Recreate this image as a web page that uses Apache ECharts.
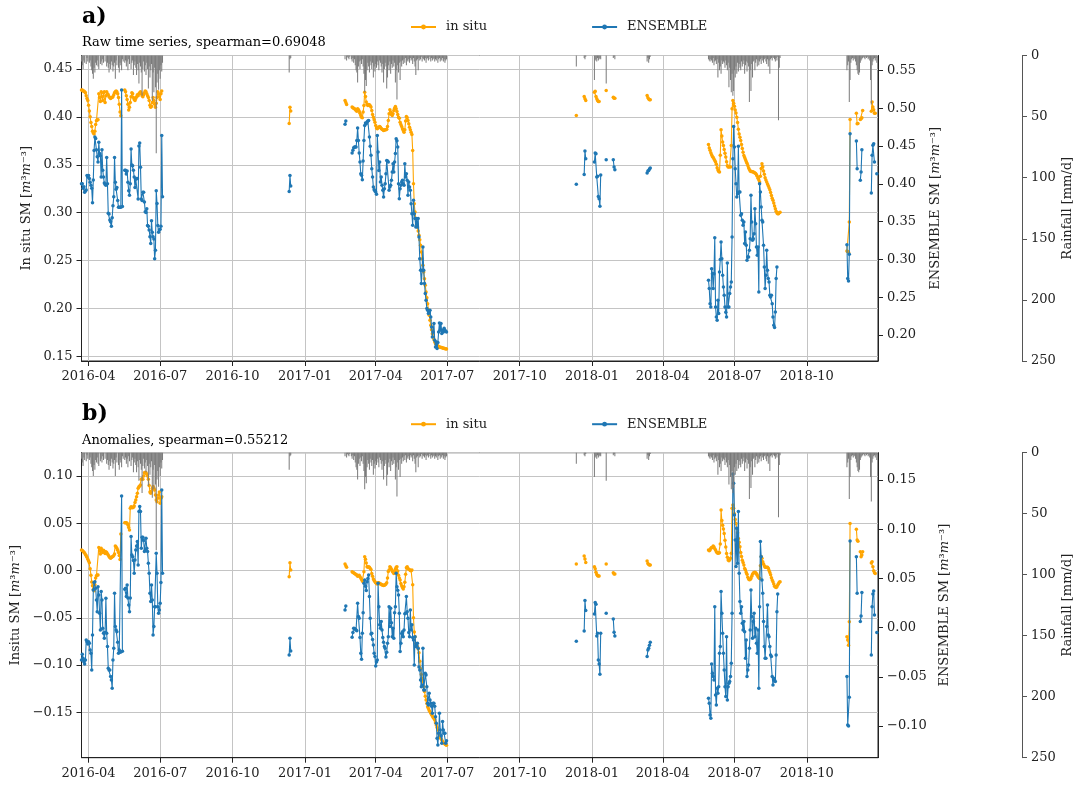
<!DOCTYPE html>
<html><head><meta charset="utf-8">
<script src="https://cdn.jsdelivr.net/npm/echarts@6/dist/echarts.min.js"></script>
<style>html,body{margin:0;padding:0;background:#fff}#c{width:1076px;height:785px}</style>
</head><body><div id="c"></div>
<script>
// Segment start dates (daily values follow each start)
const segStarts = ['2016-03-23','2016-12-12','2017-02-21','2017-12-12','2018-03-12','2018-05-29','2018-11-21'];

const insituRaw = [
 [0.428,0.428,0.427,0.427,0.426,0.425,0.422,0.419,0.417,0.412,
  0.406,0.400,0.394,0.390,0.385,0.383,0.382,0.385,0.392,0.396,
  0.397,0.397,0.424,0.420,0.416,0.426,0.421,0.417,0.425,0.426,
  0.415,0.422,0.426,0.424,0.423,0.421,0.420,0.419,0.420,0.420,
  0.421,0.423,0.425,0.426,0.427,0.426,0.424,0.420,0.413,0.405,
  0.401,null,null,null,null,0.428,0.426,0.422,0.418,0.413,
  0.407,0.410,0.415,0.421,0.425,0.424,0.420,0.418,0.417,0.419,
  0.421,0.423,0.422,0.424,0.425,0.426,0.424,0.422,0.421,0.423,
  0.425,0.427,0.426,0.424,0.422,0.420,0.417,0.412,0.410,0.411,
  0.415,0.420,0.417,0.413,0.410,0.414,0.420,0.426,0.424,0.421,
  0.418,0.424,0.427],
 [0.393,0.410,0.406],
 [0.417,0.4149,0.4128,null,null,null,null,null,null,0.4101,
  0.4094,0.4090,0.4083,0.4076,0.4066,0.4059,0.4083,0.4073,0.4059,0.4038,
  0.4014,0.3996,0.3989,0.4049,0.4118,0.4257,0.4212,0.4153,0.4128,0.4118,
  0.4128,0.4125,0.4114,0.4101,0.4066,0.4024,0.3996,0.3969,0.3944,0.3910,
  0.3882,0.3875,0.3885,0.3892,0.3899,0.3892,0.3878,0.3871,0.3864,0.3857,
  0.3861,0.3864,0.3864,0.3871,0.3899,0.3962,0.4031,0.4073,0.4049,0.4024,
  0.4014,0.4031,0.4066,0.4090,0.4108,0.4083,0.4055,0.4024,0.3996,0.3986,
  0.3944,0.3920,0.3899,0.3875,0.3857,0.3840,0.3864,0.3955,0.4003,0.3989,
  0.3962,0.3927,0.3892,0.3864,0.3840,0.3816,0.3649,0.3302,0.3094,0.3007,
  0.2937,0.2885,0.2851,0.2809,0.2764,0.2719,0.2660,0.2590,0.2521,0.2451,
  0.2382,0.2312,0.2243,0.2174,0.2114,0.2052,0.1989,0.1930,0.1878,0.1826,
  0.1781,0.1739,0.1705,0.1677,0.1653,0.1635,0.1625,0.1618,0.1611,0.1604,
  0.1601,0.1597,0.1594,0.1594,0.1590,0.1587,0.1587,0.1583,0.1583,0.1580],
 [0.4014,null,null,null,null,null,null,null,null,null,
  0.4212,0.4187,0.4170,null,null,null,null,null,null,null,
  null,null,null,0.4257,0.4267,0.4212,0.4187,0.4170,0.4160,0.4160,
  null,null,null,null,null,null,null,null,0.4274,null,
  null,null,null,null,null,null,null,0.4205,0.4194,0.4194],
 [0.4222,0.4198,0.4185,0.4177,0.4177],
 [0.3712,0.3675,0.3650,0.3625,0.3605,0.3587,0.3575,0.3560,0.3545,0.3528,
  0.3505,0.3470,0.3445,0.3430,0.3424,0.3600,0.3864,0.3800,0.3736,0.3700,
  0.3660,0.3620,0.3580,0.3530,0.3490,0.3476,0.3476,0.3483,0.3476,0.3700,
  0.4083,0.4170,0.4140,0.4110,0.4070,0.4040,0.3996,0.3940,0.3870,0.3820,
  0.3788,0.3753,0.3710,0.3670,0.3630,0.3597,0.3575,0.3555,0.3535,0.3515,
  0.3493,0.3470,0.3450,0.3436,0.3430,0.3430,0.3428,0.3425,0.3420,0.3415,
  0.3408,0.3395,0.3380,0.3360,0.3340,0.3320,0.3380,0.3460,0.3510,0.3480,
  0.3435,0.3400,0.3365,0.3340,0.3319,0.3300,0.3280,0.3260,0.3239,0.3210,
  0.3180,0.3150,0.3130,0.3100,0.3070,0.3040,0.3015,0.2996,0.2990,0.2990,
  0.3000,0.3005],
 [0.2601,0.2595,0.2587,0.2903,0.3972,null,null,null,null,null,
  null,null,0.4038,0.3927,0.3930,null,null,0.3972,0.3979,0.3990,
  0.4066,null,null,null,null,null,null,null,null,null,
  null,0.4059,0.4153,0.4101,0.4073,0.4038,0.4038,null,null]
];

const ensembleRaw = [
 [0.400,0.400,0.394,0.396,0.389,0.391,0.392,0.411,0.409,0.411,
  0.407,0.402,0.398,0.394,0.375,0.405,0.444,0.462,0.460,0.445,
  0.436,0.429,0.455,0.440,0.437,0.409,0.445,0.418,0.409,0.401,
  0.399,0.398,0.435,0.400,0.361,0.360,0.352,0.350,0.344,0.355,
  0.371,0.383,0.435,0.402,0.393,0.395,0.378,0.369,0.369,0.369,
  0.369,0.524,0.370,null,null,0.418,0.418,0.413,0.417,0.402,
  0.391,0.385,0.400,0.446,0.425,0.424,0.418,0.409,0.395,0.406,
  0.407,0.407,0.380,0.450,0.454,0.422,0.380,0.378,0.389,0.389,
  0.376,0.363,0.362,0.367,0.345,0.344,0.339,0.330,0.321,0.351,
  0.336,0.330,0.327,0.301,0.312,0.391,0.374,0.345,0.336,0.339,
  0.340,0.344,0.464,0.383],
 [0.390,0.411,0.397],
 [0.479,0.483,null,null,null,null,null,null,null,0.4407,
  0.4443,0.4478,0.4487,0.4487,0.4487,0.4575,0.4738,0.4575,0.4407,0.4288,
  0.4134,0.4112,0.4055,0.4302,0.4575,0.4773,0.4804,0.4795,0.4817,0.4830,
  0.4839,0.4619,0.4496,0.4377,0.4200,0.4090,0.3958,0.3923,0.3905,0.3892,
  0.3861,0.4641,0.4421,0.4178,0.4288,0.4024,0.4090,0.3980,0.3914,0.3826,
  0.3936,0.4002,0.4134,0.4310,0.4302,0.4288,0.3914,0.3958,0.3980,0.4046,
  0.4156,0.4266,0.4156,0.4288,0.4400,0.4597,0.4570,0.4487,0.4002,0.3804,
  0.3936,0.3980,0.4024,0.4046,0.4002,0.3980,0.4266,0.4090,0.4134,0.4046,
  0.3848,0.4024,0.3958,0.3914,0.3738,0.3605,0.3452,0.3782,0.3605,0.3540,
  0.3430,0.3540,0.3430,0.3540,0.3298,0.3010,0.2856,0.2680,0.2856,0.3165,
  0.2856,0.2680,0.2548,0.2460,0.2350,0.2327,0.2283,0.2300,0.2327,0.2239,
  0.2107,0.1975,0.2041,0.2151,0.1930,0.1842,0.1908,0.1820,0.1900,0.2041,
  0.2160,0.2063,0.2151,0.2019,0.2063,0.2041,0.2090,0.2063,0.2050,0.2041],
 [0.3993,null,null,null,null,null,null,null,null,null,
  0.4125,0.4434,0.4332,null,null,null,null,null,null,null,
  null,null,null,0.4288,0.4407,0.4398,0.4090,0.4099,0.3834,0.3804,
  0.3702,0.4117,null,null,null,null,null,null,0.4319,null,
  null,null,null,null,null,null,null,0.4319,0.4222,0.4187],
 [0.4143,0.4170,0.4178,0.4195,0.4209],
 [0.2724,0.2614,0.2415,0.2371,0.2878,0.2812,0.2614,0.2812,0.3288,0.2371,
  0.2239,0.2195,0.2459,0.2283,0.2834,0.3000,0.3231,0.3010,0.2790,0.2636,
  0.2526,0.2371,0.2300,0.2239,0.2953,0.2371,0.2371,0.2548,0.2636,0.2700,
  0.3297,0.4332,0.4760,0.4487,0.4200,0.4002,0.3826,0.3870,0.4496,0.3892,
  0.3892,0.3583,0.3605,0.3517,0.3451,0.3495,0.3209,0.3363,0.3187,0.2988,
  0.3032,0.3032,0.3121,0.3275,0.3848,0.3495,0.3253,0.3275,0.3341,0.3671,
  0.3473,0.3165,0.3054,0.3165,0.2570,0.4002,0.3892,0.3693,0.3517,0.3495,
  0.3187,0.2900,0.2614,0.2790,0.3121,0.2856,0.2746,0.2702,0.2526,0.2504,
  0.2526,0.2415,0.2239,0.2129,0.2098,0.2305,0.2746,0.2900],
 [0.3195,0.2746,0.2715,0.3068,0.4663,null,null,null,null,null,
  null,null,0.4566,0.4200,null,null,null,0.4046,0.4156,0.4452,
  null,null,null,null,null,null,null,null,null,null,
  null,0.3879,0.4377,0.4509,0.4531,0.4288,null,null,0.4134]
];

const insituAnom = [
 [0.0217,0.0212,0.0205,0.0195,0.0185,0.0170,0.0158,0.0140,0.0120,0.0100,
  0.0083,0.0020,-0.0050,-0.0120,-0.0160,-0.0200,-0.0213,-0.0150,-0.0080,-0.0055,
  -0.0048,-0.0048,0.0245,0.0210,0.0175,0.0235,0.0215,0.0190,0.0215,0.0205,
  0.0180,0.0200,0.0190,0.0175,0.0164,0.0150,0.0139,0.0130,0.0139,0.0145,
  0.0150,0.0160,0.0175,0.0259,0.0250,0.0235,0.0215,0.0190,0.0160,0.0118,
  0.0386,null,null,null,null,0.0506,0.0506,0.0506,0.0500,0.0482,
  0.0455,0.0429,0.0660,0.0676,0.0670,0.0665,0.0670,0.0683,0.0720,0.0746,
  0.0781,0.0817,0.0870,0.0887,0.0894,0.0905,0.0965,0.0972,0.0965,0.1000,
  0.1035,0.1039,0.1035,0.1020,0.1000,0.0965,0.0900,0.0830,0.0817,0.0834,
  0.0870,0.0890,0.0870,0.0852,0.0799,0.0746,0.0728,0.0764,0.0800,0.0830,
  0.0711,0.0764,0.0780],
 [-0.0065,0.0083,0.0005],
 [0.0069,0.0050,0.0034,null,null,null,null,null,null,-0.0012,
  -0.0020,-0.0023,-0.0030,-0.0037,-0.0042,-0.0048,-0.0060,-0.0055,-0.0050,-0.0065,
  -0.0080,-0.0095,-0.0110,-0.0118,-0.0012,0.0146,0.0120,0.0080,0.0041,0.0034,
  0.0041,0.0034,0.0023,0.0012,-0.0030,-0.0060,-0.0090,-0.0105,-0.0118,-0.0130,
  -0.0136,-0.0143,-0.0129,-0.0129,-0.0136,-0.0143,-0.0146,-0.0153,-0.0153,-0.0157,
  -0.0155,-0.0150,-0.0143,-0.0129,-0.0080,-0.0010,0.0005,0.0041,0.0030,0.0015,
  -0.0005,-0.0019,-0.0030,-0.0012,0.0015,0.0035,0.0041,-0.0005,-0.0050,-0.0080,
  -0.0100,-0.0136,-0.0160,-0.0180,-0.0196,-0.0171,-0.0125,-0.0040,0.0030,0.0041,
  0.0023,0.0015,0.0008,0.0000,-0.0002,0.0005,-0.0150,-0.0500,-0.0650,-0.0700,
  -0.0771,-0.0790,-0.0805,-0.0830,-0.0870,-0.0960,-0.1040,-0.1100,-0.1140,-0.1176,
  -0.1229,-0.1280,-0.1330,-0.1370,-0.1406,-0.1441,-0.1460,-0.1480,-0.1494,-0.1511,
  -0.1525,-0.1540,-0.1555,-0.1565,-0.1582,-0.1610,-0.1635,-0.1660,-0.1688,-0.1723,
  -0.1750,-0.1770,-0.1780,-0.1794,-0.1808,-0.1822,-0.1830,-0.1836,-0.1842,-0.1847],
 [0.0069,null,null,null,null,null,null,null,null,null,
  0.0154,0.0122,0.0086,null,null,null,null,null,null,null,
  null,null,null,0.0041,0.0020,-0.0019,-0.0041,-0.0055,-0.0058,-0.0058,
  null,null,null,null,null,null,null,null,0.0069,null,
  null,null,null,null,null,null,null,-0.0023,-0.0037,-0.0037],
 [0.0101,0.0076,0.0065,0.0058,0.0058],
 [0.0217,0.0210,0.0217,0.0235,0.0245,0.0245,0.0259,0.0250,0.0230,0.0217,
  0.0200,0.0189,0.0182,0.0185,0.0189,0.0280,0.0640,0.0530,0.0480,0.0440,
  0.0393,0.0320,0.0250,0.0180,0.0140,0.0111,0.0104,0.0115,0.0129,0.0182,
  0.0658,0.0693,0.0658,0.0600,0.0540,0.0499,0.0446,0.0400,0.0340,0.0300,
  0.0252,0.0190,0.0150,0.0110,0.0085,0.0058,0.0023,0.0005,-0.0020,-0.0040,
  -0.0072,-0.0090,-0.0098,-0.0095,-0.0083,-0.0060,-0.0040,-0.0025,-0.0020,-0.0019,
  -0.0023,-0.0035,-0.0050,-0.0065,-0.0075,-0.0083,0.0050,0.0150,0.0130,0.0094,
  0.0069,0.0050,0.0034,0.0034,0.0034,0.0034,0.0025,0.0000,-0.0020,-0.0045,
  -0.0075,-0.0100,-0.0118,-0.0143,-0.0165,-0.0175,-0.0178,-0.0171,-0.0153,-0.0140,
  -0.0125,-0.0118],
 [-0.0700,-0.0735,-0.0790,-0.0541,0.0499,null,null,null,null,null,
  null,null,0.0436,0.0323,0.0310,null,null,0.0199,0.0146,0.0164,
  0.0199,null,null,null,null,null,null,null,null,null,
  null,0.0080,0.0094,0.0041,-0.0002,-0.0023,-0.0030,null,null]
];

const ensembleAnom = [
 [-0.0329,-0.0270,-0.0312,-0.0346,-0.0369,-0.0329,-0.0126,-0.0143,-0.0166,-0.0143,
  -0.0159,-0.0227,-0.0261,-0.0430,-0.0075,0.0383,0.0457,0.0467,0.0400,0.0281,
  0.0162,0.0416,0.0332,0.0146,-0.0024,0.0366,0.0281,-0.0007,-0.0058,-0.0109,
  -0.0051,0.0298,-0.0058,-0.0193,-0.0414,-0.0430,-0.0430,-0.0498,-0.0532,-0.0617,
  -0.0329,-0.0210,0.0349,0.0010,-0.0024,-0.0041,-0.0150,-0.0261,-0.0227,-0.0247,
  -0.0247,0.1338,-0.0240,null,null,0.0389,0.0400,0.0315,0.0433,0.0300,
  0.0230,0.0162,0.0300,0.0925,0.0738,0.0721,0.0681,0.0552,0.0688,0.0789,
  0.0830,0.0874,0.0637,0.1179,0.1230,0.1179,0.0806,0.0918,0.0918,0.0884,
  0.0772,0.0789,0.0908,0.0806,0.0772,0.0654,0.0552,0.0349,0.0264,0.0433,
  0.0281,-0.0075,0.0010,0.0213,0.0213,0.0755,0.0552,0.0213,0.0146,0.0179,
  0.0247,0.0457,0.1399,0.0552],
 [-0.0278,-0.0109,-0.0237],
 [0.0179,0.0220,null,null,null,null,null,null,null,-0.0098,
  -0.0050,-0.0007,-0.0010,-0.0017,-0.0025,-0.0031,0.0247,0.0112,0.0095,-0.0100,
  -0.0261,-0.0322,-0.0058,0.0150,0.0450,0.0484,0.0420,0.0376,0.0467,0.0500,
  0.0535,0.0315,0.0095,-0.0065,-0.0058,-0.0120,-0.0176,-0.0261,-0.0295,-0.0390,
  -0.0350,-0.0329,0.0450,0.0213,0.0030,-0.0007,0.0061,-0.0024,-0.0100,-0.0150,
  -0.0193,-0.0210,-0.0300,-0.0250,-0.0159,-0.0092,0.0213,0.0010,0.0196,0.0050,
  -0.0092,-0.0007,-0.0109,0.0150,0.0213,0.0552,0.0416,0.0380,0.0332,0.0146,
  -0.0244,-0.0159,-0.0060,-0.0041,-0.0092,-0.0024,0.0140,0.0146,0.0315,0.0162,
  0.0095,-0.0050,-0.0092,0.0179,-0.0024,0.0030,-0.0100,-0.0126,-0.0380,-0.0092,
  -0.0193,-0.0176,-0.0159,-0.0210,-0.0400,-0.0430,-0.0532,-0.0600,-0.0583,-0.0210,
  -0.0634,-0.0634,-0.0464,-0.0481,-0.0600,-0.0769,-0.0786,-0.0667,-0.0735,-0.0769,
  -0.0800,-0.0871,-0.0769,-0.0769,-0.0800,-0.0905,-0.0972,-0.1125,-0.1193,-0.1074,
  -0.0871,-0.1040,-0.1100,-0.1176,-0.0955,-0.1040,-0.1074,-0.1074,-0.1176,-0.1150],
 [-0.0139,null,null,null,null,null,null,null,null,null,
  -0.0034,0.0274,0.0173,null,null,null,null,null,null,null,
  null,null,null,0.0139,0.0254,0.0237,-0.0085,-0.0058,-0.0329,-0.0369,
  -0.0475,-0.0058,null,null,null,null,null,null,0.0146,null,
  null,null,null,null,null,null,null,0.0088,-0.0048,-0.0085],
 [-0.0295,-0.0227,-0.0210,-0.0180,-0.0149],
 [-0.0718,-0.0769,-0.0888,-0.0922,-0.0369,-0.0464,-0.0498,-0.0532,0.0213,-0.0684,
  -0.0786,-0.0617,-0.0667,-0.0600,-0.0261,-0.0193,0.0366,0.0146,-0.0058,-0.0261,
  -0.0430,-0.0600,-0.0701,-0.0092,-0.0735,-0.0600,-0.0566,-0.0549,-0.0498,-0.0363,
  0.0146,0.1561,0.1467,0.1145,0.0891,0.0620,0.1009,0.0654,0.1179,0.0552,
  0.0264,0.0146,0.0213,0.0044,-0.0024,0.0061,-0.0041,-0.0312,-0.0126,-0.0498,
  -0.0430,-0.0380,-0.0210,-0.0024,0.0383,0.0112,-0.0109,0.0061,0.0146,-0.0092,
  -0.0007,-0.0159,-0.0261,-0.0024,-0.0617,0.0213,0.0874,0.0721,0.0484,0.0349,
  0.0061,-0.0193,-0.0312,-0.0312,0.0010,0.0230,-0.0075,-0.0092,-0.0193,-0.0278,
  -0.0295,-0.0498,-0.0583,-0.0515,-0.0532,-0.0549,-0.0278,0.0162,0.0342],
 [-0.0498,-0.0989,-0.0999,-0.0708,0.0881,null,null,null,null,null,
  null,null,0.0721,0.0349,null,null,null,0.0061,0.0118,0.0356,
  null,null,null,null,null,null,null,null,null,null,
  null,-0.0278,0.0213,0.0342,0.0373,0.0129,null,null,-0.0051]
];

const rainfall = [
 [5,8,11,4,6,0,7,2,5,0, 6,4,9,12,15,19,10,14,6,8, 4,9,11,0,7,5,8,3,6,0,
  5,0,9,6,10,14,7,11,5,8, 13,9,6,19,4,8,0,10,14,6, 8,12,3,5,0,6,4,9,5,12,
  3,7,0,11,6,4,16,8,5,10, 16,7,12,23,6,9,14,33,11,5, 13,8,16,6,11,27,9,18,12,7,
  37,14,30,10,26,80,22,15,28,12, 19,8,13,6],
 [14,3,2],
 [3,0,4,1,2,3,1,0,3,5, 2,6,3,8,12,14,22,9,5,11, 4,7,3,9,15,30,20,25,12,6,
  9,14,5,8,11,6,18,9,13,7, 10,5,8,12,4,6,9,14,7,22, 11,6,9,27,18,8,12,5,15,7,
  10,4,9,6,22,12,36,8,14,6, 20,5,9,4,7,3,6,2,8,4, 5,3,6,2,4,3,7,2,5,9,
  16,4,3,12,2,4,3,1,5,2, 3,4,2,6,3,2,4,1,3,5, 2,4,3,2,5,3,4,2,6,3,
  2,5,3,4,2,5,3,6,4,3],
 [9,null,null,null,null,null,null,null,null,null,
  2,3,1,null,null,null,null,null,null,null,
  null,null,null,20,4,3,5,2,4,3,
  2,3,null,null,null,null,null,null,23,null,
  null,null,null,null,null,null,null,2,1,3],
 [5,2,6,3,1],
 [3,4,5,3,4,6,2,8,5,4, 7,3,18,6,12,9,15,4,7,5, 6,10,4,8,12,6,26,10,20,30,
  15,33,29,12,18,9,15,6,13,7, 10,12,5,9,7,4,15,8,5,13, 6,9,38,12,29,7,18,5,4,12,
  6,3,9,4,8,5,3,7,2,4, 6,3,2,5,7,3,9,4,15,3, 2,4,1,2,3,5,2,4,1,53, 10,2],
 [12,8,5,38,20,6,3,2,4,2, 3,5,8,12,15,16,14,6,4,3, 2,1,2,3,1,2,1,3,2,4,
  20,40,8,5,3,2,4,2,6]
];

const xTickLabels = ['2016-04','2016-07','2016-10','2017-01','2017-04','2017-07','2017-10','2018-01','2018-04','2018-07','2018-10'];
const xRange = ['2016-03-23','2018-12-30'];
const panelTitles = ['a)','b)'];
const panelSubtitles = ['Raw time series, spearman=0.69048','Anomalies, spearman=0.55212'];
const leftNames = ['In situ SM','Insitu SM'];
const seriesNames = ['in situ','ENSEMBLE'];

// ---- helpers ----
const DAY = 86400000;
function toTs(s){const p=s.split('-').map(Number);return Date.UTC(p[0],p[1]-1,p[2]||1);}
function build(segs){
  const out=[];
  segs.forEach((arr,i)=>{
    const t0=toTs(segStarts[i]);
    arr.forEach((v,k)=>out.push([t0+k*DAY,v]));
    out.push([t0+arr.length*DAY,null]);
  });
  return out;
}
function buildBars(segs){
  const out=[];
  segs.forEach((arr,i)=>{
    const t0=toTs(segStarts[i]);
    arr.forEach((v,k)=>{ if(v) out.push([t0+k*DAY,v]); });
  });
  return out;
}
const FONT='DejaVu Serif';
const INK='#222';
const tickTs = xTickLabels.map(toTs);
function fmtNum(v){const r=Math.round(v*100)/100;return (r<0?'\u2212':'')+Math.abs(r).toFixed(2);}
function fmtDate(v){const d=new Date(v);return d.getUTCFullYear()+'-'+String(d.getUTCMonth()+1).padStart(2,'0');}

const grids=[{top:55.5,height:305.5},{top:452.7,height:305}];
const ranges=[
  {l:[0.1454,0.4639], r:[0.1656,0.5698]},
  {l:[-0.198,0.1247], r:[-0.1322,0.1777]}
];
const panelData=[[insituRaw,ensembleRaw],[insituAnom,ensembleAnom]];

const option={
  animation:false,
  backgroundColor:'#fff',
  textStyle:{fontFamily:FONT},
  title:[],legend:[],grid:[],xAxis:[],yAxis:[],series:[]
};
const rich={i:{fontStyle:'italic',fontFamily:FONT,fontSize:13,color:INK}};
[0,1].forEach(p=>{
  const g=grids[p];
  option.title.push({
    text:panelTitles[p], subtext:panelSubtitles[p], left:77, top:g.top-54, itemGap:8,
    textStyle:{fontFamily:FONT,fontWeight:'bold',fontSize:22,color:'#000'},
    subtextStyle:{fontFamily:FONT,fontSize:13,color:'#000'}
  });
  option.legend.push({
    data:seriesNames, left:405, top:g.top-40, itemWidth:25, itemHeight:6, itemGap:104,
    textStyle:{fontFamily:FONT,fontSize:13,color:INK,padding:[0,0,0,5]}
  });
  option.grid.push({left:81.5,width:796.5,top:g.top,height:g.height,show:true,borderColor:'#222',borderWidth:1,outerBoundsMode:'none',containLabel:false});
  option.xAxis.push({
    type:'value', gridIndex:p, min:toTs(xRange[0]), max:toTs(xRange[1])+12*3600000,
    axisLine:{show:true,onZero:false,lineStyle:{color:'#222'}},
    axisTick:{show:true,customValues:tickTs,length:5,lineStyle:{color:'#222'}},
    axisLabel:{customValues:tickTs,formatter:fmtDate,fontFamily:FONT,fontSize:13,color:INK,margin:9},
    splitLine:{show:true,lineStyle:{color:'#c4c4c4',width:1}}
  });
  const yi=option.yAxis.length;
  option.yAxis.push({
    type:'value', gridIndex:p, position:'left', min:ranges[p].l[0], max:ranges[p].l[1],
    minInterval:0.05, maxInterval:0.05,
    name:leftNames[p]+' [{i|m}³{i|m}⁻³]', nameLocation:'middle', nameGap:46,
    nameTextStyle:{fontFamily:FONT,fontSize:13,color:INK,rich:rich},
    axisLine:{show:true,onZero:false,lineStyle:{color:'#222'}},
    axisTick:{show:true,length:5,lineStyle:{color:'#222'}},
    axisLabel:{formatter:fmtNum,fontFamily:FONT,fontSize:13,color:INK,margin:9,showMinLabel:false,showMaxLabel:false},
    splitLine:{show:true,lineStyle:{color:'#c4c4c4',width:1}}
  });
  option.yAxis.push({
    type:'value', gridIndex:p, position:'right', min:ranges[p].r[0], max:ranges[p].r[1],
    minInterval:0.05, maxInterval:0.05,
    name:'ENSEMBLE SM [{i|m}³{i|m}⁻³]', nameLocation:'middle', nameGap:51,
    nameTextStyle:{fontFamily:FONT,fontSize:13,color:INK,rich:rich},
    axisLine:{show:true,onZero:false,lineStyle:{color:'#222'}},
    axisTick:{show:true,length:5,lineStyle:{color:'#222'}},
    axisLabel:{formatter:fmtNum,fontFamily:FONT,fontSize:13,color:INK,margin:9,showMinLabel:false,showMaxLabel:false},
    splitLine:{show:false}
  });
  option.yAxis.push({
    type:'value', gridIndex:p, position:'right', offset:144, min:0, max:250, interval:50, inverse:true,
    name:'Rainfall [mm/d]', nameLocation:'middle', nameGap:39, nameMoveOverlap:false,
    nameTextStyle:{fontFamily:FONT,fontSize:13,color:INK},
    axisLine:{show:true,onZero:false,lineStyle:{color:'#555'}},
    axisTick:{show:true,length:5,lineStyle:{color:'#555'}},
    axisLabel:{fontFamily:FONT,fontSize:13,color:INK,margin:9},
    splitLine:{show:false}
  });
  const [ins,ens]=panelData[p];
  option.series.push({
    name:seriesNames[0], type:'line', xAxisIndex:p, yAxisIndex:yi, data:build(ins),
    connectNulls:false, symbol:'circle', symbolSize:3.5, showSymbol:true,
    itemStyle:{color:'#ffa500'}, lineStyle:{color:'#ffa500',width:1.1}, z:3
  });
  option.series.push({
    name:seriesNames[1], type:'line', xAxisIndex:p, yAxisIndex:yi+1, data:build(ens),
    connectNulls:false, symbol:'circle', symbolSize:3.5, showSymbol:true,
    itemStyle:{color:'#1f77b4'}, lineStyle:{color:'#1f77b4',width:1.1}, z:4
  });
  option.series.push({
    name:'Rainfall', type:'bar', xAxisIndex:p, yAxisIndex:yi+2, data:buildBars(rainfall),
    barWidth:0.8, itemStyle:{color:'#7a7a7a'}, silent:true, z:5
  });
});
const chart=echarts.init(document.getElementById('c'),null,{renderer:'canvas'});
chart.setOption(option);
</script>
</body></html>
